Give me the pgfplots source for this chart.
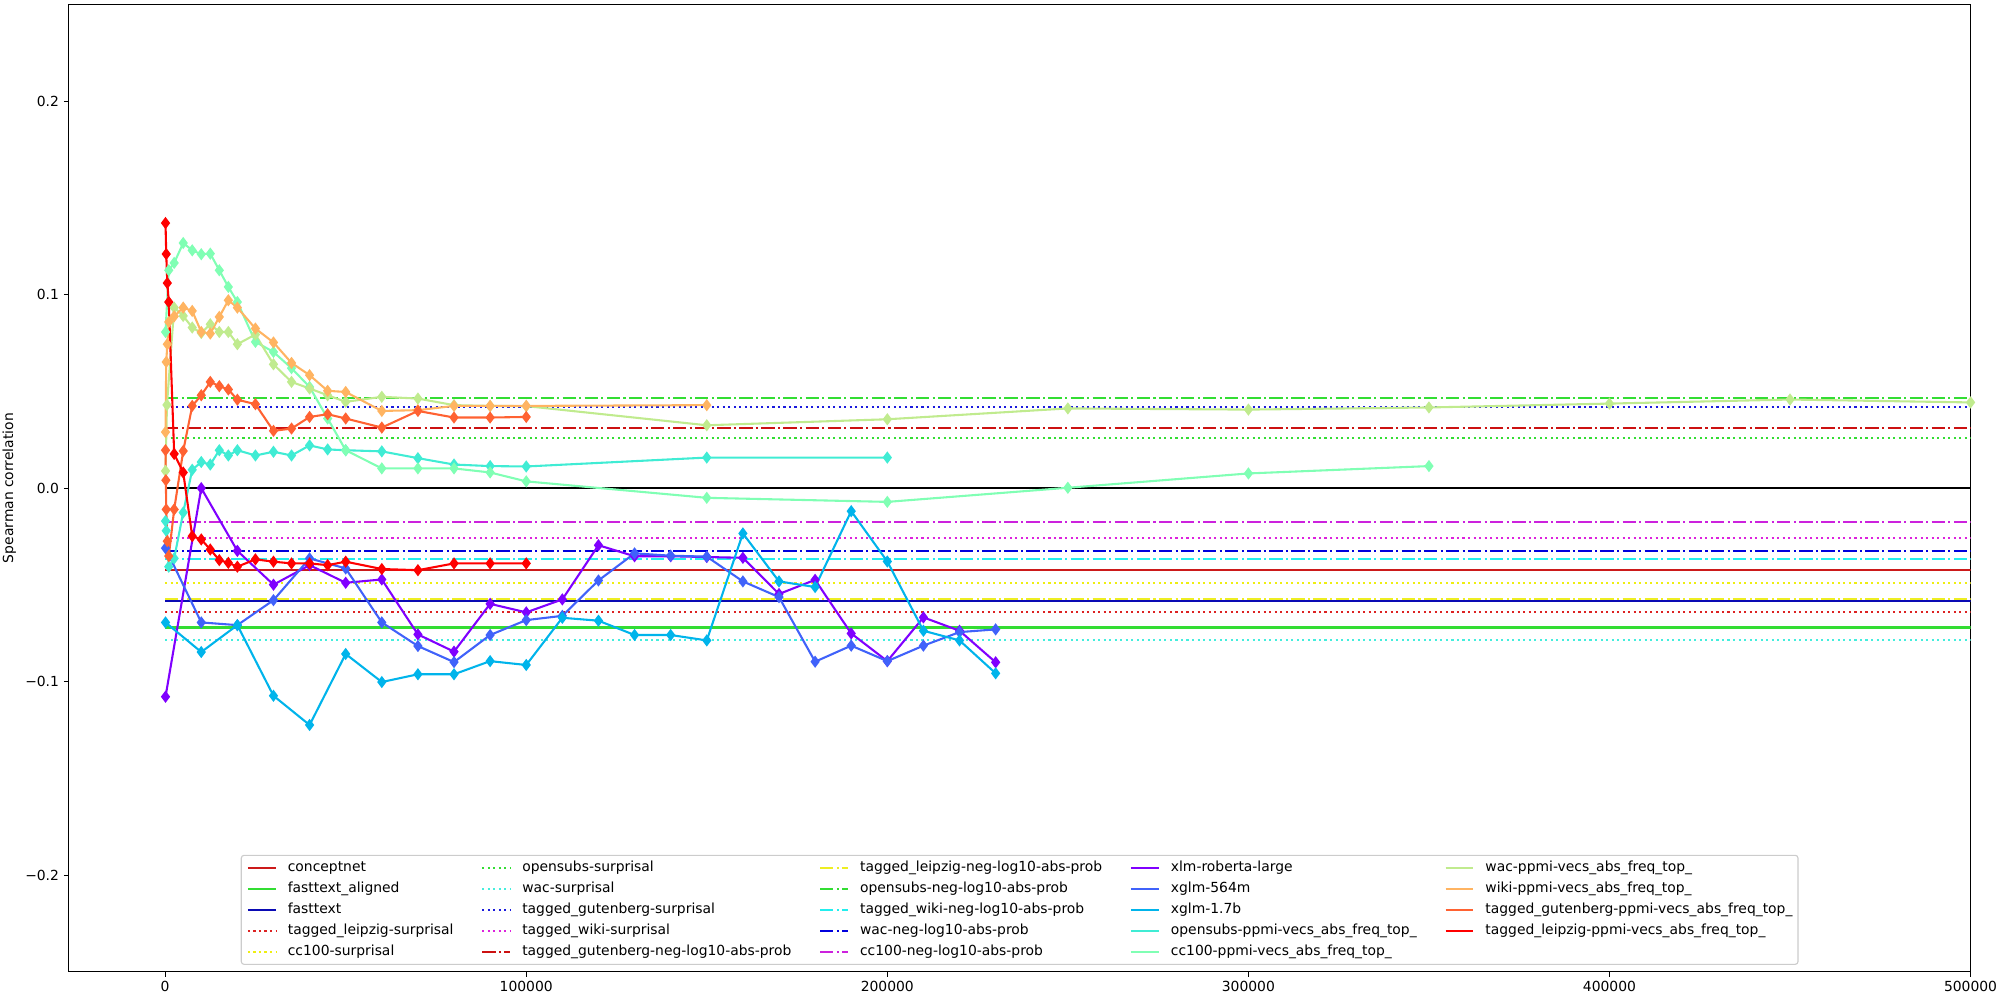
\documentclass[border=0pt]{standalone}
\usepackage{fontspec}
\setmainfont{DejaVu Sans}
\usepackage{pgfplots}
\pgfplotsset{compat=1.18}
\definecolor{mA}{HTML}{8000FF}
\definecolor{mB}{HTML}{4062FA}
\definecolor{mC}{HTML}{00B4EB}
\definecolor{mD}{HTML}{40ECD4}
\definecolor{mE}{HTML}{80FFB4}
\definecolor{mF}{HTML}{C0EB8E}
\definecolor{mG}{HTML}{FFB462}
\definecolor{mH}{HTML}{FF6232}
\definecolor{mI}{HTML}{FF0000}
\definecolor{bRed}{HTML}{CC1A1A}
\definecolor{bGreen}{HTML}{33DD33}
\definecolor{bBlue}{HTML}{0A0AB4}
\definecolor{dRed}{HTML}{DD2222}
\definecolor{dYellow}{HTML}{EEEE11}
\definecolor{dGreen}{HTML}{33DD33}
\definecolor{dCyan}{HTML}{44EEDD}
\definecolor{dBlue}{HTML}{1A1ADD}
\definecolor{dMag}{HTML}{DD22DD}
\definecolor{ddRed}{HTML}{CC1111}
\definecolor{ddYellow}{HTML}{EEEE22}
\definecolor{ddGreen}{HTML}{33DD33}
\definecolor{ddCyan}{HTML}{22EEEE}
\definecolor{ddBlue}{HTML}{0000DD}
\definecolor{ddMag}{HTML}{CC22DD}
\tikzset{
  bsolid/.style={line width=1.5pt, solid},
  bdot/.style={line width=1.5pt, dash pattern=on 1.5pt off 2.475pt},
  bdashdot/.style={line width=1.5pt, dash pattern=on 9.6pt off 2.4pt on 1.5pt off 2.4pt},
  model/.style={line width=1.5pt, color=#1, mark=diamond*, mark size=3.2pt,
     mark options={solid, draw=none, fill=#1}},
}
\begin{document}
\begin{tikzpicture}
\begin{axis}[
  scale only axis, width=1369.4pt, height=696.6pt,
  xmin=-26700, xmax=500000, ymin=-0.25, ymax=0.25,
  scaled x ticks=false, scaled y ticks=false,
  xtick={0,100000,200000,300000,400000,500000},
  xticklabels={0,100000,200000,300000,400000,500000},
  ytick={-0.2,-0.1,0,0.1,0.2},
  yticklabels={−0.2,−0.1,0.0,0.1,0.2},
  xtick pos=bottom, ytick pos=left,
  tick align=outside, major tick length=3.5pt,
  tick style={black, line width=0.8pt},
  axis line style={line width=0.8pt},
  tick label style={font=\fontsize{10}{12}\selectfont},
  /pgf/number format/assume math mode=true,
  ylabel={Spearman correlation},
  ylabel style={font=\fontsize{10}{12}\selectfont, at={(axis description cs:0,0.5)}, anchor=center, rotate=0, yshift=42.8pt},
  legend columns=5,
  legend cell align=left,
  legend image code/.code={\draw[#1] (0pt,0pt) -- (20pt,0pt);},
  legend style={at={(0.5,0.0072)}, anchor=south, draw=black!20, line width=0.8pt,
    rounded corners=2pt, fill=white, fill opacity=0.8, text opacity=1,
    font=\fontsize{10}{12}\selectfont, inner sep=4pt, row sep=5pt,
    nodes={inner xsep=0pt, inner ysep=0pt, text height=7.6pt, text depth=2.5pt},
    /tikz/every odd column/.append style={column sep=8pt},
    /tikz/every even column/.append style={column sep=20pt}},
]
% zero line
\addplot[forget plot, black, line width=1.5pt] coordinates {(0,0) (500000,0)};
% baselines
\addplot[forget plot, bsolid, bRed] coordinates {(0,-0.0422) (500000,-0.0422)};
\addplot[forget plot, bsolid, bGreen] coordinates {(0,-0.0720) (500000,-0.0720)};
\addplot[forget plot, bsolid, bBlue] coordinates {(0,-0.0582) (500000,-0.0582)};
\addplot[forget plot, bdot, dRed] coordinates {(0,-0.0639) (500000,-0.0639)};
\addplot[forget plot, bdot, dYellow] coordinates {(0,-0.0489) (500000,-0.0489)};
\addplot[forget plot, bdot, dGreen] coordinates {(0,0.0258) (500000,0.0258)};
\addplot[forget plot, bdot, dCyan] coordinates {(0,-0.0783) (500000,-0.0783)};
\addplot[forget plot, bdot, dBlue] coordinates {(0,0.0418) (500000,0.0418)};
\addplot[forget plot, bdot, dMag] coordinates {(0,-0.0257) (500000,-0.0257)};
\addplot[forget plot, bdashdot, ddRed] coordinates {(0,0.0312) (500000,0.0312)};
\addplot[forget plot, bdashdot, ddYellow] coordinates {(0,-0.0572) (500000,-0.0572)};
\addplot[forget plot, bdashdot, ddGreen] coordinates {(0,0.0467) (500000,0.0467)};
\addplot[forget plot, bdashdot, ddCyan] coordinates {(0,-0.0367) (500000,-0.0367)};
\addplot[forget plot, bdashdot, ddBlue] coordinates {(0,-0.0325) (500000,-0.0325)};
\addplot[forget plot, bdashdot, ddMag] coordinates {(0,-0.0176) (500000,-0.0176)};
% xlm-roberta-large
\addplot[forget plot, model=mA] coordinates {(100,-0.1078) (10000,0.000) (20000,-0.0324) (30000,-0.0499) (40000,-0.0398) (50000,-0.0489) (60000,-0.0472) (70000,-0.0756) (80000,-0.0845) (90000,-0.0598) (100000,-0.0642) (110000,-0.0575) (120000,-0.0295) (130000,-0.0352) (140000,-0.0352) (150000,-0.0356) (160000,-0.036) (170000,-0.0547) (180000,-0.0474) (190000,-0.0751) (200000,-0.0894) (210000,-0.0668) (220000,-0.0737) (230000,-0.090)};
% xglm-564m
\addplot[forget plot, model=mB] coordinates {(100,-0.031) (10000,-0.0694) (20000,-0.0708) (30000,-0.0579) (40000,-0.0363) (50000,-0.0415) (60000,-0.0694) (70000,-0.0816) (80000,-0.0899) (90000,-0.0759) (100000,-0.0682) (110000,-0.066) (120000,-0.0477) (130000,-0.0337) (140000,-0.0349) (150000,-0.0354) (160000,-0.0482) (170000,-0.0563) (180000,-0.0897) (190000,-0.0814) (200000,-0.0894) (210000,-0.0814) (220000,-0.0744) (230000,-0.073)};
% xglm-1.7b
\addplot[forget plot, model=mC] coordinates {(100,-0.0694) (10000,-0.0847) (20000,-0.0708) (30000,-0.1073) (40000,-0.1224) (50000,-0.0857) (60000,-0.1002) (70000,-0.0962) (80000,-0.0962) (90000,-0.0894) (100000,-0.0914) (110000,-0.067) (120000,-0.0685) (130000,-0.0759) (140000,-0.0759) (150000,-0.0787) (160000,-0.0234) (170000,-0.0482) (180000,-0.0511) (190000,-0.0119) (200000,-0.0379) (210000,-0.0737) (220000,-0.0787) (230000,-0.0957)};
% opensubs-ppmi
\addplot[forget plot, model=mD] coordinates {(100,-0.017) (300,-0.022) (1000,-0.0406) (2500,-0.0363) (5000,-0.0126) (7500,0.0095) (10000,0.0135) (12500,0.0122) (15000,0.0196) (17500,0.0169) (20000,0.0196) (25000,0.0169) (30000,0.0188) (35000,0.0169) (40000,0.0221) (45000,0.0200) (50000,0.0196) (60000,0.0190) (70000,0.0155) (80000,0.0122) (90000,0.0114) (100000,0.0112) (150000,0.0158) (200000,0.0158)};
% cc100-ppmi
\addplot[forget plot, model=mE] coordinates {(100,0.0807) (1000,0.1126) (2500,0.1164) (5000,0.1267) (7500,0.1229) (10000,0.1209) (12500,0.1212) (15000,0.1126) (17500,0.1040) (20000,0.0962) (25000,0.0756) (30000,0.0704) (35000,0.0620) (40000,0.0523) (45000,0.0360) (50000,0.0196) (60000,0.0102) (70000,0.0102) (80000,0.0102) (90000,0.0081) (100000,0.0035) (150000,-0.0050) (200000,-0.0071) (250000,0.0002) (300000,0.0076) (350000,0.0114)};
% wac-ppmi
\addplot[forget plot, model=mF] coordinates {(100,0.0089) (500,0.0430) (2500,0.0933) (5000,0.0890) (7500,0.0830) (10000,0.0802) (12500,0.0847) (15000,0.0807) (17500,0.0807) (20000,0.0744) (25000,0.0794) (30000,0.0640) (35000,0.0549) (40000,0.0515) (45000,0.0480) (50000,0.0446) (60000,0.0472) (70000,0.0463) (80000,0.0429) (90000,0.0425) (100000,0.0424) (150000,0.0325) (200000,0.0356) (250000,0.0412) (300000,0.0406) (350000,0.0417) (400000,0.0437) (450000,0.0458) (500000,0.0443)};
% wiki-ppmi
\addplot[forget plot, model=mG] coordinates {(100,0.0290) (300,0.0652) (600,0.0744) (1000,0.0859) (2500,0.0888) (5000,0.0933) (7500,0.0916) (10000,0.0807) (12500,0.0799) (15000,0.0885) (17500,0.0971) (20000,0.0933) (25000,0.0825) (30000,0.0753) (35000,0.0647) (40000,0.0584) (45000,0.0503) (50000,0.0497) (60000,0.0399) (70000,0.0403) (80000,0.0425) (90000,0.0425) (100000,0.0425) (150000,0.0429)};
% tagged_gutenberg-ppmi
\addplot[forget plot, model=mH] coordinates {(100,0.0196) (200,0.0041) (300,-0.0110) (600,-0.0274) (1000,-0.0351) (2500,-0.0110) (5000,0.0192) (7500,0.0425) (10000,0.0480) (12500,0.0549) (15000,0.0527) (17500,0.0510) (20000,0.0457) (25000,0.0434) (30000,0.0296) (35000,0.0308) (40000,0.0368) (45000,0.0382) (50000,0.0360) (60000,0.0313) (70000,0.0399) (80000,0.0365) (90000,0.0365) (100000,0.0368)};
% tagged_leipzig-ppmi
\addplot[forget plot, model=mI] coordinates {(100,0.137) (300,0.121) (600,0.106) (1000,0.0962) (2500,0.0177) (5000,0.0081) (7500,-0.0248) (10000,-0.0265) (12500,-0.0317) (15000,-0.0372) (17500,-0.0386) (20000,-0.0406) (25000,-0.0368) (30000,-0.0380) (35000,-0.0389) (40000,-0.0389) (45000,-0.0398) (50000,-0.0380) (60000,-0.0418) (70000,-0.0424) (80000,-0.0389) (90000,-0.0389) (100000,-0.0389)};
% legend, row-major order
\addlegendimage{bsolid, bRed}\addlegendentry{conceptnet}
\addlegendimage{bdot, dGreen}\addlegendentry{opensubs-surprisal}
\addlegendimage{bdashdot, ddYellow}\addlegendentry{tagged\_leipzig-neg-log10-abs-prob}
\addlegendimage{line width=1.5pt, mA}\addlegendentry{xlm-roberta-large}
\addlegendimage{line width=1.5pt, mF}\addlegendentry{wac-ppmi-vecs\_abs\_freq\_top\_}
\addlegendimage{bsolid, bGreen}\addlegendentry{fasttext\_aligned}
\addlegendimage{bdot, dCyan}\addlegendentry{wac-surprisal}
\addlegendimage{bdashdot, ddGreen}\addlegendentry{opensubs-neg-log10-abs-prob}
\addlegendimage{line width=1.5pt, mB}\addlegendentry{xglm-564m}
\addlegendimage{line width=1.5pt, mG}\addlegendentry{wiki-ppmi-vecs\_abs\_freq\_top\_}
\addlegendimage{bsolid, bBlue}\addlegendentry{fasttext}
\addlegendimage{bdot, dBlue}\addlegendentry{tagged\_gutenberg-surprisal}
\addlegendimage{bdashdot, ddCyan}\addlegendentry{tagged\_wiki-neg-log10-abs-prob}
\addlegendimage{line width=1.5pt, mC}\addlegendentry{xglm-1.7b}
\addlegendimage{line width=1.5pt, mH}\addlegendentry{tagged\_gutenberg-ppmi-vecs\_abs\_freq\_top\_}
\addlegendimage{bdot, dRed}\addlegendentry{tagged\_leipzig-surprisal}
\addlegendimage{bdot, dMag}\addlegendentry{tagged\_wiki-surprisal}
\addlegendimage{bdashdot, ddBlue}\addlegendentry{wac-neg-log10-abs-prob}
\addlegendimage{line width=1.5pt, mD}\addlegendentry{opensubs-ppmi-vecs\_abs\_freq\_top\_}
\addlegendimage{line width=1.5pt, mI}\addlegendentry{tagged\_leipzig-ppmi-vecs\_abs\_freq\_top\_}
\addlegendimage{bdot, dYellow}\addlegendentry{cc100-surprisal}
\addlegendimage{bdashdot, ddRed}\addlegendentry{tagged\_gutenberg-neg-log10-abs-prob}
\addlegendimage{bdashdot, ddMag}\addlegendentry{cc100-neg-log10-abs-prob}
\addlegendimage{line width=1.5pt, mE}\addlegendentry{cc100-ppmi-vecs\_abs\_freq\_top\_}
\end{axis}
\pgfresetboundingbox
\path ([shift={(-49.5pt,-20.2pt)}]current axis.south west) rectangle ([shift={(21.2pt,3.2pt)}]current axis.north east);
\end{tikzpicture}
\end{document}
